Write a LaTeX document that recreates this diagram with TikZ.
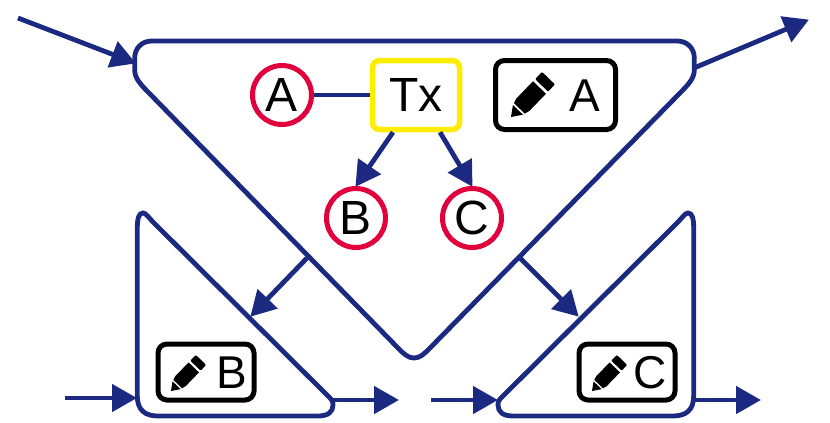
\documentclass[tikz,border=0pt]{standalone}
\usepackage{fontspec}
\setmainfont{Liberation Sans}
\usetikzlibrary{arrows.meta}
\definecolor{navyline}{RGB}{27,42,128}
\definecolor{redring}{RGB}{226,0,60}
\definecolor{yellowbox}{RGB}{255,237,0}
\newcommand{\pencilicon}[3]{%
  \begin{scope}[shift={(#1,#2)},rotate=46,x=#3pt,y=#3pt]
    \fill[black] (0,0) -- (10,7) -- (10,-7) -- cycle;
    \fill[black] (12,7.5) -- (17,9) -- (41,9) -- (41,-9) -- (17,-9) -- (12,-7.5) -- cycle;
    \fill[black,rounded corners=1pt] (44,9) -- (54,9) -- (54,-9) -- (44,-9) -- cycle;
  \end{scope}}
\begin{document}
\begin{tikzpicture}[x=1pt,y=-1pt,
  wire/.style={draw=navyline,line width=4.8pt},
  flow/.style={wire,-{Triangle[length=25pt,width=27pt]},shorten >=-1pt},
  ring node/.style={circle,draw=redring,line width=5pt,fill=white,minimum size=59pt,inner sep=0pt,font=\fontsize{48}{50}\selectfont},
  tx node/.style={rectangle,rounded corners=7pt,draw=yellowbox,line width=5.5pt,fill=white,minimum width=87pt,minimum height=69pt,inner sep=0pt,font=\fontsize{48}{50}\selectfont},
  edit node/.style={rectangle,rounded corners=9pt,draw=black,line width=5pt,inner sep=0pt},
  letter node/.style={inner sep=0pt,font=\fontsize{46}{48}\selectfont}]

  \useasboundingbox (0,0) rectangle (830,423);

  \draw[wire] (152,41) -- (677,41) .. controls (687,41) and (694.3,48) .. (694.3,58) -- (694.3,70)
    .. controls (694.3,78) and (689,84) .. (679,94) -- (430,348)
    .. controls (424,354) and (420,358) .. (414,358) .. controls (408,358) and (404,354) .. (398,348)
    -- (150,94) .. controls (140,84) and (134.7,78) .. (134.7,70) -- (134.7,58)
    .. controls (134.7,48) and (142,41) .. (152,41) -- cycle;
  \draw[wire] (137.3,228) .. controls (137.3,218) and (139,213) .. (143,213)
    .. controls (146,213) and (149,218) .. (153,222) -- (328,396)
    .. controls (332,400) and (333,401) .. (333,405) .. controls (333,412) and (328,416) .. (318,416)
    -- (158,416) .. controls (145,416) and (137.3,410) .. (137.3,396) -- cycle;
  \draw[wire] (693.7,228) .. controls (693.7,218) and (692,213) .. (688,213)
    .. controls (685,213) and (682,218) .. (678,222) -- (503,396)
    .. controls (499,400) and (498,401) .. (498,405) .. controls (498,412) and (503,416) .. (513,416)
    -- (673,416) .. controls (686,416) and (693.7,410) .. (693.7,396) -- cycle;

  \coordinate (in top) at (18,18);
  \coordinate (top left) at (135,63);
  \coordinate (top right) at (694,68);
  \coordinate (out top) at (808,20);
  \coordinate (big left) at (307,258);
  \coordinate (left side) at (251,316);
  \coordinate (big right) at (520,258);
  \coordinate (right side) at (578,316);
  \coordinate (in left) at (65,398);
  \coordinate (left edge) at (136,398);
  \coordinate (left out) at (333,400);
  \coordinate (out left) at (398,400);
  \coordinate (in right) at (431,400);
  \coordinate (right edge) at (497,400);
  \coordinate (right out) at (694,400);
  \coordinate (out right) at (760,400);

  \node[ring node] (A) at (282,95) {A};
  \node[tx node] (Tx) at (416,95) {Tx};
  \node[ring node] (B) at (356,218) {B};
  \node[ring node] (C) at (472,218) {C};

  \node[edit node,minimum width=120pt,minimum height=69pt] (editA) at (555.5,95) {};
  \node[edit node,minimum width=96pt,minimum height=56pt] (editB) at (206,372) {};
  \node[edit node,minimum width=96pt,minimum height=56pt] (editC) at (627,372) {};
  \node[letter node] (letterA) at (585,96) {A};
  \node[letter node] (letterB) at (232,373) {B};
  \node[letter node] (letterC) at (650,373) {C};

  \pencilicon{511}{117}{1}
  \pencilicon{171}{391}{0.8}
  \pencilicon{592}{391}{0.8}

  \path[every node/.style={font=\small}]
   (A) edge[wire] (Tx)
   ([xshift=-23pt]Tx.south) edge[flow] (B.north)
   ([xshift=24pt]Tx.south) edge[flow] (C.north)
   (in top) edge[flow] (top left)
   (top right) edge[flow] (out top)
   (big left) edge[flow] (left side)
   (big right) edge[flow] (right side)
   (in left) edge[flow] (left edge)
   (left out) edge[flow] (out left)
   (in right) edge[flow] (right edge)
   (right out) edge[flow] (out right);
\end{tikzpicture}
\end{document}
